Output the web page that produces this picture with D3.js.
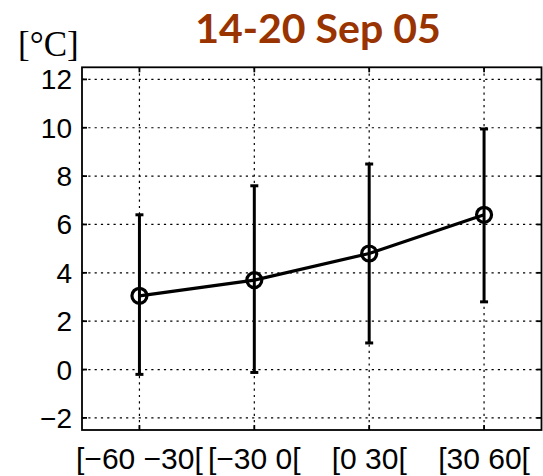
<!DOCTYPE html>
<html>
<head>
<meta charset="utf-8">
<script src="https://cdn.jsdelivr.net/npm/d3@7"></script>
<style>
  html, body { margin: 0; padding: 0; background: #fff; }
  svg { display: block; }
</style>
</head>
<body>
<svg id="chart" width="543" height="476"></svg>
<script>
// Latitude bands and weekly temperature statistics
const bands = ["[\u221260 \u221230[", "[\u221230 0[", "[0 30[", "[30 60["];
const meanTemp = [3.05, 3.7, 4.8, 6.4];
const upperTemp = [6.4, 7.6, 8.5, 9.95];
const lowerTemp = [-0.2, -0.12, 1.1, 2.8];
const yTicks = [-2, 0, 2, 4, 6, 8, 10, 12];
const title = "14-20 Sep 05";
const unitLabel = "[\u00B0C]";

const svg = d3.select("#chart");
const plot = { left: 82, right: 541.5, top: 67.3, bottom: 430 };

const x = d3.scaleLinear().domain([0.5, bands.length + 0.5]).range([plot.left, plot.right]);
const y = d3.scaleLinear().domain([-2.5, 12.5]).range([plot.bottom, plot.top]);
const idx = bands.map((_, i) => i + 1);

// dotted grid
const grid = svg.append("g").attr("stroke", "#000").attr("stroke-width", 1.2)
  .attr("stroke-dasharray", "2.2,4.1");
grid.selectAll("line.h").data(yTicks).join("line")
  .attr("x1", plot.left).attr("x2", plot.right)
  .attr("y1", d => y(d)).attr("y2", d => y(d));
grid.selectAll("line.v").data(idx).join("line")
  .attr("y1", plot.top).attr("y2", plot.bottom)
  .attr("x1", d => x(d)).attr("x2", d => x(d));

// frame with inward ticks on all four sides
const frame = svg.append("g").attr("stroke", "#000").attr("stroke-width", 1.8).attr("fill", "none");
frame.append("rect")
  .attr("x", plot.left).attr("y", plot.top)
  .attr("width", plot.right - plot.left).attr("height", plot.bottom - plot.top);
const tl = 5;
yTicks.forEach(t => {
  frame.append("line").attr("x1", plot.left).attr("x2", plot.left + tl).attr("y1", y(t)).attr("y2", y(t));
  frame.append("line").attr("x1", plot.right).attr("x2", plot.right - tl).attr("y1", y(t)).attr("y2", y(t));
});
idx.forEach(t => {
  frame.append("line").attr("y1", plot.bottom).attr("y2", plot.bottom - tl).attr("x1", x(t)).attr("x2", x(t));
  frame.append("line").attr("y1", plot.top).attr("y2", plot.top + tl).attr("x1", x(t)).attr("x2", x(t));
});

// y tick labels
svg.append("g").selectAll("text").data(yTicks).join("text")
  .attr("x", 72).attr("y", d => y(d) + 10)
  .attr("text-anchor", "end")
  .attr("font-family", "'Liberation Sans', Arial, sans-serif")
  .attr("font-size", 28)
  .text(d => d < 0 ? "\u2212" + Math.abs(d) : d);

// x tick labels
svg.append("g").selectAll("text").data(bands).join("text")
  .attr("x", (d, i) => x(i + 1)).attr("y", 469)
  .attr("text-anchor", "middle")
  .attr("font-family", "'Liberation Sans', Arial, sans-serif")
  .attr("font-size", 30)
  .text(d => d);

// error bars
const eb = svg.append("g").attr("stroke", "#000").attr("stroke-width", 3);
idx.forEach((t, i) => {
  eb.append("line").attr("x1", x(t)).attr("x2", x(t)).attr("y1", y(lowerTemp[i])).attr("y2", y(upperTemp[i]));
  [lowerTemp[i], upperTemp[i]].forEach(v => {
    eb.append("line").attr("x1", x(t) - 4).attr("x2", x(t) + 4).attr("y1", y(v)).attr("y2", y(v));
  });
});

// mean line and circle markers
svg.append("path")
  .datum(meanTemp)
  .attr("fill", "none").attr("stroke", "#000").attr("stroke-width", 3.2)
  .attr("d", d3.line().x((d, i) => x(i + 1)).y(d => y(d)));
svg.append("g").selectAll("circle").data(meanTemp).join("circle")
  .attr("cx", (d, i) => x(i + 1)).attr("cy", d => y(d))
  .attr("r", 7.5).attr("fill", "none").attr("stroke", "#000").attr("stroke-width", 3.2);

// title and unit
svg.append("text")
  .attr("x", 318).attr("y", 43)
  .attr("text-anchor", "middle")
  .attr("font-family", "Lato, 'Open Sans', sans-serif")
  .attr("font-weight", "bold")
  .attr("font-size", 41)
  .attr("fill", "#993300")
  .text(title);
svg.append("text")
  .attr("x", 18).attr("y", 56)
  .attr("font-family", "'Liberation Serif', 'Times New Roman', serif")
  .attr("font-size", 35)
  .attr("fill", "#000")
  .text(unitLabel);
</script>
</body>
</html>
